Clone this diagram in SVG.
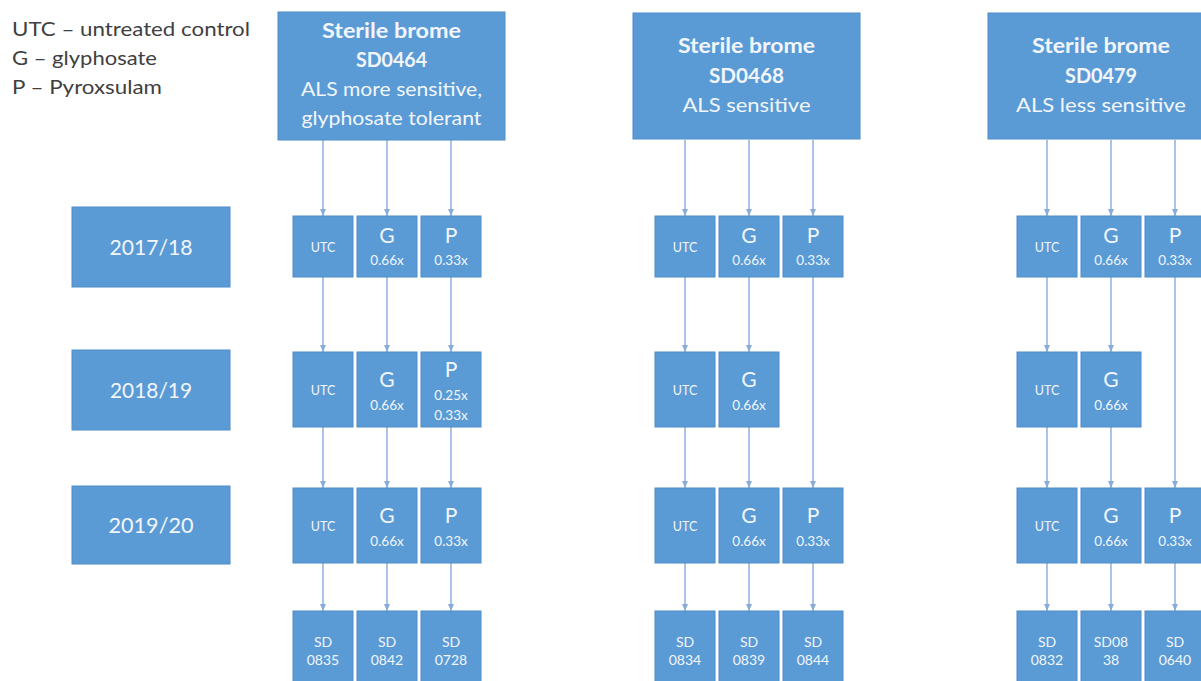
<svg xmlns="http://www.w3.org/2000/svg" width="1201" height="681" viewBox="0 0 1201 681">
<style>
.bx{fill:#5b9bd5;stroke:#4f8cc9;stroke-width:1}
.t{font-family:Lato,"Open Sans","Liberation Sans",sans-serif;fill:#f2f6fc;text-anchor:middle}
.hb{font-size:20px;font-weight:bold}
.hr{font-size:20px}
.yr{font-size:21px}
.sm{font-size:12.5px}
.ds{font-size:13.5px}
.big{font-size:21px}
.sd{font-size:14px}
.lg{font-family:Lato,"Open Sans","Liberation Sans",sans-serif;font-size:19px;fill:#404040}
.c{stroke:#86acd9;stroke-width:1.4;fill:none;marker-end:url(#ah)}
</style>
<defs>
<marker id="ah" markerUnits="userSpaceOnUse" markerWidth="8" markerHeight="7" refX="7" refY="3.5" orient="auto">
<path d="M0,0.5 L7,3.5 L0,6.5 Z" fill="#86acd9"/>
</marker>
</defs>
<rect width="1201" height="681" fill="#ffffff"/>
<g id="legend">
<text class="lg" x="12" y="36" textLength="238" lengthAdjust="spacingAndGlyphs">UTC – untreated control</text>
<text class="lg" x="12" y="65" textLength="145" lengthAdjust="spacingAndGlyphs">G – glyphosate</text>
<text class="lg" x="12" y="94" textLength="150" lengthAdjust="spacingAndGlyphs">P – Pyroxsulam</text>
</g>
<g id="connectors">
<path class="c" d="M323,140 V216"/><path class="c" d="M387,140 V216"/><path class="c" d="M451,140 V216"/>
<path class="c" d="M323,277 V352"/><path class="c" d="M387,277 V352"/><path class="c" d="M451,277 V352"/>
<path class="c" d="M323,427 V488"/><path class="c" d="M387,427 V488"/><path class="c" d="M451,427 V488"/>
<path class="c" d="M323,563 V611"/><path class="c" d="M387,563 V611"/><path class="c" d="M451,563 V611"/>
<path class="c" d="M685,140 V216"/><path class="c" d="M749,140 V216"/><path class="c" d="M813,140 V216"/>
<path class="c" d="M685,277 V352"/><path class="c" d="M749,277 V352"/><path class="c" d="M813,277 V488"/>
<path class="c" d="M685,427 V488"/><path class="c" d="M749,427 V488"/>
<path class="c" d="M685,563 V611"/><path class="c" d="M749,563 V611"/><path class="c" d="M813,563 V611"/>
<path class="c" d="M1047,140 V216"/><path class="c" d="M1111,140 V216"/><path class="c" d="M1175,140 V216"/>
<path class="c" d="M1047,277 V352"/><path class="c" d="M1111,277 V352"/><path class="c" d="M1175,277 V488"/>
<path class="c" d="M1047,427 V488"/><path class="c" d="M1111,427 V488"/>
<path class="c" d="M1047,563 V611"/><path class="c" d="M1111,563 V611"/><path class="c" d="M1175,563 V611"/>
</g>
<g id="year-2017"><rect class="bx" x="72" y="207" width="158" height="80"/><text class="t yr" x="151" y="255" textLength="83" lengthAdjust="spacingAndGlyphs">2017/18</text></g>
<g id="year-2018"><rect class="bx" x="72" y="350" width="158" height="80"/><text class="t yr" x="151" y="398" textLength="82" lengthAdjust="spacingAndGlyphs">2018/19</text></g>
<g id="year-2019"><rect class="bx" x="72" y="486" width="158" height="78"/><text class="t yr" x="151" y="533" textLength="85" lengthAdjust="spacingAndGlyphs">2019/20</text></g>
<g id="hdr-sd0464"><rect class="bx" x="278" y="12" width="227" height="128"/>
<text class="t hb" x="391.5" y="38" textLength="139" lengthAdjust="spacingAndGlyphs">Sterile brome</text><text class="t hb" x="391.5" y="67" textLength="71" lengthAdjust="spacingAndGlyphs">SD0464</text>
<text class="t hr" x="391.5" y="96" textLength="181" lengthAdjust="spacingAndGlyphs">ALS more sensitive,</text><text class="t hr" x="391.5" y="125" textLength="180" lengthAdjust="spacingAndGlyphs">glyphosate tolerant</text></g>
<g id="hdr-sd0468"><rect class="bx" x="633" y="13" width="227" height="126"/>
<text class="t hb" x="746.5" y="53" textLength="137" lengthAdjust="spacingAndGlyphs">Sterile brome</text><text class="t hb" x="746.5" y="83" textLength="75" lengthAdjust="spacingAndGlyphs">SD0468</text>
<text class="t hr" x="746.5" y="112" textLength="128" lengthAdjust="spacingAndGlyphs">ALS sensitive</text></g>
<g id="hdr-sd0479"><rect class="bx" x="988" y="13" width="227" height="126"/>
<text class="t hb" x="1101" y="53" textLength="138" lengthAdjust="spacingAndGlyphs">Sterile brome</text><text class="t hb" x="1101" y="83" textLength="72" lengthAdjust="spacingAndGlyphs">SD0479</text>
<text class="t hr" x="1101" y="112" textLength="170" lengthAdjust="spacingAndGlyphs">ALS less sensitive</text></g>

<g id="c1-r1-utc"><rect class="bx" x="293" y="216" width="60" height="61"/><text class="t sm" x="323" y="252">UTC</text></g>
<g id="c1-r1-g"><rect class="bx" x="357" y="216" width="60" height="61"/><text class="t big" x="387" y="243">G</text><text class="t ds" x="387" y="265">0.66x</text></g>
<g id="c1-r1-p"><rect class="bx" x="421" y="216" width="60" height="61"/><text class="t big" x="451" y="243">P</text><text class="t ds" x="451" y="265">0.33x</text></g>
<g id="c1-r2-utc"><rect class="bx" x="293" y="352" width="60" height="75"/><text class="t sm" x="323" y="395">UTC</text></g>
<g id="c1-r2-g"><rect class="bx" x="357" y="352" width="60" height="75"/><text class="t big" x="387" y="387">G</text><text class="t ds" x="387" y="410">0.66x</text></g>
<g id="c1-r2-p"><rect class="bx" x="421" y="352" width="60" height="75"/><text class="t big" x="451" y="377">P</text><text class="t ds" x="451" y="400">0.25x</text><text class="t ds" x="451" y="420">0.33x</text></g>
<g id="c1-r3-utc"><rect class="bx" x="293" y="488" width="60" height="75"/><text class="t sm" x="323" y="531">UTC</text></g>
<g id="c1-r3-g"><rect class="bx" x="357" y="488" width="60" height="75"/><text class="t big" x="387" y="523">G</text><text class="t ds" x="387" y="546">0.66x</text></g>
<g id="c1-r3-p"><rect class="bx" x="421" y="488" width="60" height="75"/><text class="t big" x="451" y="523">P</text><text class="t ds" x="451" y="546">0.33x</text></g>
<g id="c1-r4-utc"><rect class="bx" x="293" y="611" width="60" height="75"/><text class="t sd" x="323" y="647">SD</text><text class="t sd" x="323" y="665">0835</text></g>
<g id="c1-r4-g"><rect class="bx" x="357" y="611" width="60" height="75"/><text class="t sd" x="387" y="647">SD</text><text class="t sd" x="387" y="665">0842</text></g>
<g id="c1-r4-p"><rect class="bx" x="421" y="611" width="60" height="75"/><text class="t sd" x="451" y="647">SD</text><text class="t sd" x="451" y="665">0728</text></g>

<g id="c2-r1-utc"><rect class="bx" x="655" y="216" width="60" height="61"/><text class="t sm" x="685" y="252">UTC</text></g>
<g id="c2-r1-g"><rect class="bx" x="719" y="216" width="60" height="61"/><text class="t big" x="749" y="243">G</text><text class="t ds" x="749" y="265">0.66x</text></g>
<g id="c2-r1-p"><rect class="bx" x="783" y="216" width="60" height="61"/><text class="t big" x="813" y="243">P</text><text class="t ds" x="813" y="265">0.33x</text></g>
<g id="c2-r2-utc"><rect class="bx" x="655" y="352" width="60" height="75"/><text class="t sm" x="685" y="395">UTC</text></g>
<g id="c2-r2-g"><rect class="bx" x="719" y="352" width="60" height="75"/><text class="t big" x="749" y="387">G</text><text class="t ds" x="749" y="410">0.66x</text></g>
<g id="c2-r3-utc"><rect class="bx" x="655" y="488" width="60" height="75"/><text class="t sm" x="685" y="531">UTC</text></g>
<g id="c2-r3-g"><rect class="bx" x="719" y="488" width="60" height="75"/><text class="t big" x="749" y="523">G</text><text class="t ds" x="749" y="546">0.66x</text></g>
<g id="c2-r3-p"><rect class="bx" x="783" y="488" width="60" height="75"/><text class="t big" x="813" y="523">P</text><text class="t ds" x="813" y="546">0.33x</text></g>
<g id="c2-r4-utc"><rect class="bx" x="655" y="611" width="60" height="75"/><text class="t sd" x="685" y="647">SD</text><text class="t sd" x="685" y="665">0834</text></g>
<g id="c2-r4-g"><rect class="bx" x="719" y="611" width="60" height="75"/><text class="t sd" x="749" y="647">SD</text><text class="t sd" x="749" y="665">0839</text></g>
<g id="c2-r4-p"><rect class="bx" x="783" y="611" width="60" height="75"/><text class="t sd" x="813" y="647">SD</text><text class="t sd" x="813" y="665">0844</text></g>

<g id="c3-r1-utc"><rect class="bx" x="1017" y="216" width="60" height="61"/><text class="t sm" x="1047" y="252">UTC</text></g>
<g id="c3-r1-g"><rect class="bx" x="1081" y="216" width="60" height="61"/><text class="t big" x="1111" y="243">G</text><text class="t ds" x="1111" y="265">0.66x</text></g>
<g id="c3-r1-p"><rect class="bx" x="1145" y="216" width="60" height="61"/><text class="t big" x="1175" y="243">P</text><text class="t ds" x="1175" y="265">0.33x</text></g>
<g id="c3-r2-utc"><rect class="bx" x="1017" y="352" width="60" height="75"/><text class="t sm" x="1047" y="395">UTC</text></g>
<g id="c3-r2-g"><rect class="bx" x="1081" y="352" width="60" height="75"/><text class="t big" x="1111" y="387">G</text><text class="t ds" x="1111" y="410">0.66x</text></g>
<g id="c3-r3-utc"><rect class="bx" x="1017" y="488" width="60" height="75"/><text class="t sm" x="1047" y="531">UTC</text></g>
<g id="c3-r3-g"><rect class="bx" x="1081" y="488" width="60" height="75"/><text class="t big" x="1111" y="523">G</text><text class="t ds" x="1111" y="546">0.66x</text></g>
<g id="c3-r3-p"><rect class="bx" x="1145" y="488" width="60" height="75"/><text class="t big" x="1175" y="523">P</text><text class="t ds" x="1175" y="546">0.33x</text></g>
<g id="c3-r4-utc"><rect class="bx" x="1017" y="611" width="60" height="75"/><text class="t sd" x="1047" y="647">SD</text><text class="t sd" x="1047" y="665">0832</text></g>
<g id="c3-r4-g"><rect class="bx" x="1081" y="611" width="60" height="75"/><text class="t sd" x="1111" y="647">SD08</text><text class="t sd" x="1111" y="665">38</text></g>
<g id="c3-r4-p"><rect class="bx" x="1145" y="611" width="60" height="75"/><text class="t sd" x="1175" y="647">SD</text><text class="t sd" x="1175" y="665">0640</text></g>
</svg>
